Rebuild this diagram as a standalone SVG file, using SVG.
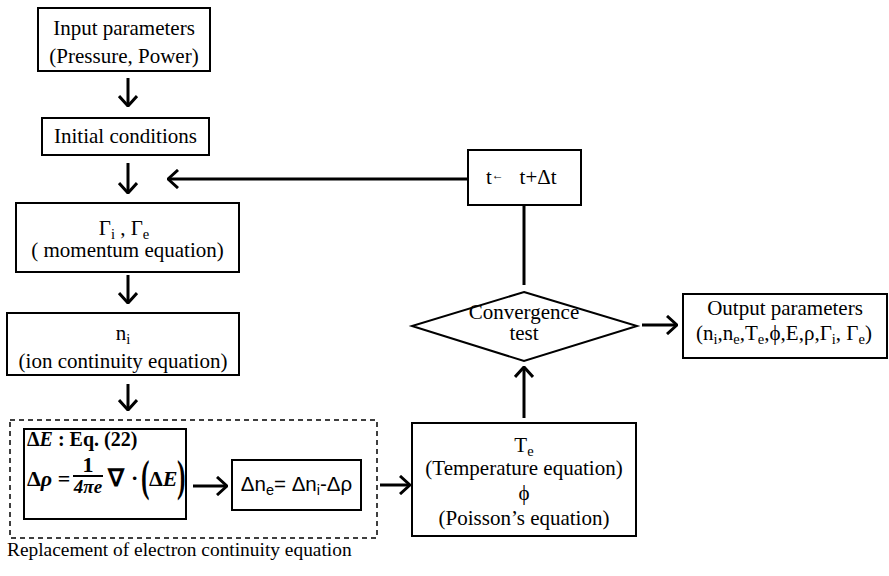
<svg xmlns="http://www.w3.org/2000/svg" width="889" height="576" viewBox="0 0 889 576">
<style>
text{font-family:"Liberation Serif","Times New Roman",serif;font-size:21px;fill:#000}
.c{text-anchor:middle}
.box{fill:#fff;stroke:#000;stroke-width:2}
.b{font-weight:bold}
.i{font-style:italic}
.sub{font-size:14.5px}
.ln{stroke:#000;stroke-width:3;fill:none}
</style>
<defs>
<marker id="ah" markerUnits="userSpaceOnUse" viewBox="0 0 12 20" refX="11" refY="10" markerWidth="12" markerHeight="20" orient="auto">
<path d="M1,1 L11,10 L1,19" fill="none" stroke="#000" stroke-width="3"/>
</marker>
</defs>
<rect width="889" height="576" fill="#fff"/>
<g id="connectors">
<line class="ln" x1="128" y1="78" x2="128" y2="106" marker-end="url(#ah)"/>
<line class="ln" x1="128" y1="163" x2="128" y2="193" marker-end="url(#ah)"/>
<line class="ln" x1="128" y1="275" x2="128" y2="303" marker-end="url(#ah)"/>
<line class="ln" x1="128" y1="384" x2="128" y2="410" marker-end="url(#ah)"/>
<line class="ln" x1="468" y1="179" x2="168" y2="179" marker-end="url(#ah)"/>
<line class="ln" x1="524" y1="205" x2="524" y2="285"/>
<line class="ln" x1="524" y1="418" x2="524" y2="367" marker-end="url(#ah)"/>
<line class="ln" x1="642" y1="325" x2="677" y2="325" marker-end="url(#ah)"/>
<line class="ln" x1="193" y1="486" x2="227" y2="486" marker-end="url(#ah)"/>
<line class="ln" x1="380" y1="485" x2="410" y2="485" marker-end="url(#ah)"/>
</g>
<g id="input">
<rect class="box" x="38" y="8" width="172" height="63"/>
<text class="c" x="124" y="35">Input parameters</text>
<text class="c" x="124" y="63">(Pressure, Power)</text>
</g>
<g id="initial">
<rect class="box" x="42" y="118" width="167" height="37"/>
<text class="c" x="125.5" y="143">Initial conditions</text>
</g>
<g id="momentum">
<rect class="box" x="16" y="203" width="223" height="69"/>
<text class="c" x="124" y="235">Γ<tspan class="sub" dy="4">i</tspan><tspan dy="-4"> , Γ</tspan><tspan class="sub" dy="4">e</tspan></text>
<text class="c" x="127.5" y="257">( momentum equation)</text>
</g>
<g id="ion">
<rect class="box" x="7" y="313" width="232" height="62"/>
<text class="c" x="123" y="340">n<tspan class="sub" dy="4">i</tspan></text>
<text class="c" x="123" y="368">(ion continuity equation)</text>
</g>
<g id="replacement">
<rect x="10" y="420" width="367" height="118" fill="none" stroke="#000" stroke-width="1.5" stroke-dasharray="5,4"/>
<text x="7" y="556" style="font-size:19.4px">Replacement of electron continuity equation</text>
</g>
<g id="equation">
<rect class="box" x="24" y="429" width="162" height="90"/>
<text class="b" x="27" y="446" style="font-size:20px">Δ<tspan class="i">E</tspan> : Eq. (22)</text>
<text class="b" x="27" y="486" style="font-size:22px">Δ<tspan class="i">ρ</tspan> =</text>
<text class="b c" x="88" y="472" style="font-size:22px">1</text>
<line x1="73" y1="476" x2="103" y2="476" stroke="#000" stroke-width="2"/>
<text class="b c i" x="88" y="493" style="font-size:19px">4πe</text>
<text class="b" x="108" y="486" style="font-size:24px">∇</text>
<text class="b" x="131" y="485" style="font-size:22px">·</text>
<text class="b" transform="translate(141,491) scale(0.85,1.5)" style="font-size:30px">(</text>
<text class="b" x="149" y="486" style="font-size:22px">Δ<tspan class="i">E</tspan></text>
<text class="b" transform="translate(177,491) scale(0.85,1.5)" style="font-size:30px">)</text>
</g>
<g id="delta-ne">
<rect class="box" x="232" y="460" width="129" height="50"/>
<text class="c" x="296.5" y="491" style="font-family:'Liberation Sans',Arial,sans-serif;font-size:20.5px">Δn<tspan class="sub" dy="4">e</tspan><tspan dy="-4">= Δn</tspan><tspan class="sub" dy="4">i</tspan><tspan dy="-4">-Δρ</tspan></text>
</g>
<g id="temperature">
<rect class="box" x="412" y="423" width="224" height="113"/>
<text class="c" x="524" y="452">T<tspan class="sub" dy="4">e</tspan></text>
<text class="c" x="524" y="475">(Temperature equation)</text>
<text class="c" x="524" y="500">ϕ</text>
<text class="c" x="524" y="525">(Poisson’s equation)</text>
</g>
<g id="convergence">
<polygon points="524,292 637,326 524,361 412,326" fill="#fff" stroke="#000" stroke-width="2"/>
<text class="c" x="524" y="319">Convergence</text>
<text class="c" x="524" y="340">test</text>
</g>
<g id="timestep">
<rect class="box" x="468" y="150" width="113" height="55"/>
<text x="486" y="184">t<tspan style="font-size:12px" dy="-5">←</tspan><tspan dy="5" xml:space="preserve">   t+Δt</tspan></text>
</g>
<g id="output">
<rect class="box" x="683" y="294" width="204" height="64"/>
<text class="c" x="785" y="315">Output parameters</text>
<text class="c" x="784" y="340">(n<tspan class="sub" dy="4">i</tspan><tspan dy="-4">,n</tspan><tspan class="sub" dy="4">e</tspan><tspan dy="-4">,T</tspan><tspan class="sub" dy="4">e</tspan><tspan dy="-4">,ϕ,E,ρ,Γ</tspan><tspan class="sub" dy="4">i</tspan><tspan dy="-4">, Γ</tspan><tspan class="sub" dy="4">e</tspan><tspan dy="-4">)</tspan></text>
</g>
</svg>
